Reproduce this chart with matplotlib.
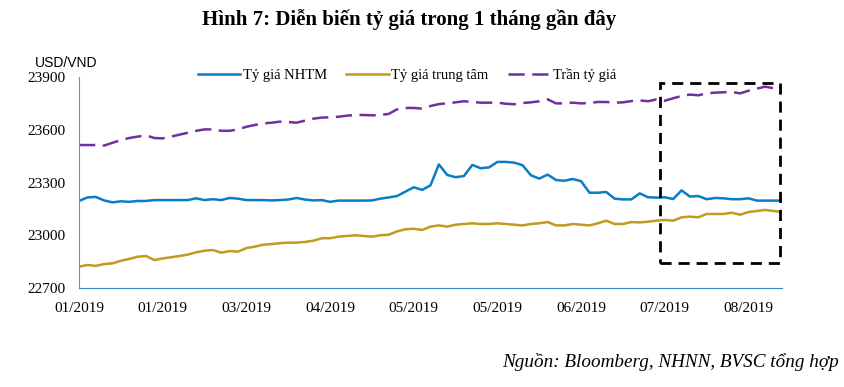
import matplotlib.pyplot as plt
from matplotlib.patches import Rectangle

# values, one point every ~2 trading days
nhtm = [23195, 23215, 23218, 23198, 23187, 23193, 23190, 23195, 23195, 23200,
        23200, 23200, 23200, 23200, 23210, 23200, 23205, 23200, 23212, 23208,
        23200, 23200, 23200, 23198, 23200, 23203, 23212, 23203, 23198, 23200,
        23190, 23197, 23197, 23197, 23197, 23198, 23208, 23215, 23223, 23248,
        23273, 23258, 23284, 23403, 23343, 23330, 23337, 23400, 23381, 23386,
        23417, 23417, 23413, 23398, 23341, 23322, 23345, 23314, 23310, 23320,
        23307, 23242, 23242, 23246, 23208, 23204, 23204, 23238, 23216, 23214,
        23216, 23206, 23255, 23220, 23223, 23205, 23212, 23210, 23205, 23205,
        23210, 23197, 23197, 23197, 23197]
trung_tam = [22821, 22831, 22826, 22836, 22840, 22855, 22865, 22878, 22882, 22859,
             22868, 22875, 22882, 22890, 22903, 22912, 22916, 22901, 22910, 22907,
             22927, 22935, 22946, 22950, 22955, 22958, 22958, 22962, 22969, 22983,
             22983, 22992, 22996, 23000, 22996, 22992, 23000, 23003, 23022, 23034,
             23037, 23030, 23049, 23056, 23049, 23060, 23064, 23068, 23064, 23064,
             23068, 23064, 23060, 23056, 23064, 23068, 23075, 23056, 23056, 23064,
             23060, 23056, 23068, 23083, 23064, 23064, 23075, 23073, 23077, 23083,
             23087, 23083, 23102, 23106, 23102, 23121, 23121, 23121, 23128, 23117,
             23132, 23138, 23144, 23138, 23132]
tran = [23513, 23513, 23513, 23510, 23526, 23541, 23553, 23561, 23568, 23553,
        23551, 23561, 23572, 23583, 23594, 23602, 23602, 23594, 23594, 23602,
        23617, 23627, 23636, 23640, 23646, 23644, 23640, 23652, 23663, 23669,
        23671, 23674, 23680, 23684, 23684, 23682, 23684, 23690, 23716, 23724,
        23724, 23720, 23735, 23746, 23750, 23756, 23762, 23758, 23754, 23754,
        23754, 23748, 23745, 23752, 23756, 23762, 23773, 23750, 23750, 23754,
        23750, 23752, 23758, 23758, 23754, 23756, 23763, 23767, 23762, 23773,
        23765, 23779, 23792, 23800, 23796, 23807, 23811, 23813, 23815, 23807,
        23822, 23834, 23845, 23836, 23836]
tick_labels = ['01/2019', '01/2019', '03/2019', '04/2019', '05/2019',
               '05/2019', '06/2019', '07/2019', '08/2019']

serif = 'Liberation Serif'
x = list(range(len(nhtm)))

fig = plt.figure(figsize=(8.44, 3.87), dpi=100)
ax = fig.add_axes([79 / 844, 1 - 288 / 387, 703 / 844, 211 / 387])

ax.plot(x, nhtm, color='#0A7CC4', lw=1.8, label='Tỷ giá NHTM')
ax.plot(x, trung_tam, color='#BF9B1E', lw=1.8, label='Tỷ giá trung tâm')
ax.plot(x, tran, color='#7030A0', lw=1.8, dashes=(6.5, 3), label='Trần tỷ giá')

# highlight box over the last month
ax.add_patch(Rectangle((69.4, 22842), 14.4, 1024, fill=False, ec='black',
                       lw=2, ls=(0, (4, 2.5)), clip_on=False, zorder=5))

ax.set_xlim(0, len(nhtm) - 1)
ax.set_ylim(22700, 23900)
ax.set_yticks([22700, 23000, 23300, 23600, 23900])
ax.set_xticks(range(0, 81, 10))
ax.set_xticklabels(tick_labels)
ax.tick_params(length=0, labelsize=11)
ax.tick_params(axis='x', pad=10)
ax.tick_params(axis='y', pad=10)
for lab in ax.get_xticklabels() + ax.get_yticklabels():
    lab.set_fontfamily(serif)

for s in ['top', 'right']:
    ax.spines[s].set_visible(False)
ax.spines['left'].set_color('#5B9BD5')
ax.spines['bottom'].set_color('#2E86D1')

ax.legend(loc='center', bbox_to_anchor=(407 / 844, 1 - 75 / 387),
          bbox_transform=fig.transFigure, ncol=3, frameon=False,
          handlelength=2.9, handletextpad=0.2, columnspacing=1.3,
          prop={'family': serif, 'size': 10.5})

fig.text(35 / 844, 1 - 63 / 387, 'USD/VND', family='Liberation Sans',
         fontsize=10, va='center', ha='left')
fig.text(409 / 844, 1 - 20 / 387, 'Hình 7: Diễn biến tỷ giá trong 1 tháng gần đây',
         family=serif, fontsize=15, fontweight='bold', ha='center', va='center')
fig.text(839 / 844, 1 - 362 / 387, 'Nguồn: Bloomberg, NHNN, BVSC tổng hợp',
         family=serif, fontsize=13.8, style='italic', ha='right', va='center')

plt.savefig('out.png', dpi=100)
